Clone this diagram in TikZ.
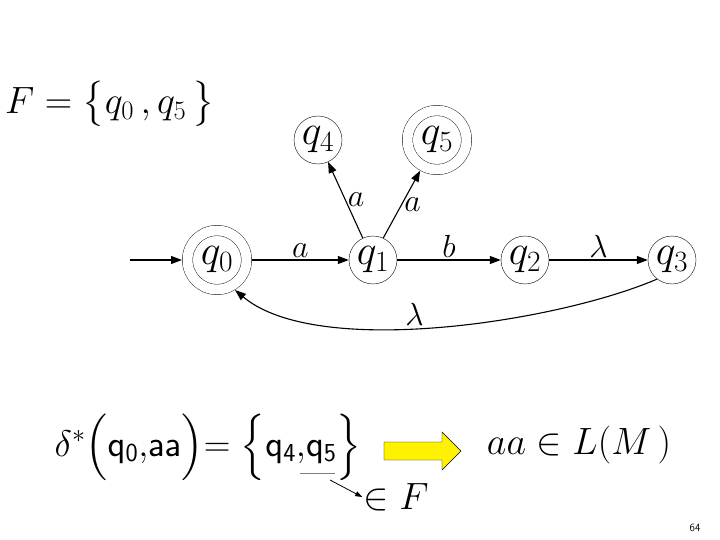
\RequirePackage{fix-cm}
\documentclass[tikz,border=0pt]{standalone}
\usepackage{amsmath}
\usepackage{amssymb}
\usetikzlibrary{arrows.meta, positioning}

\begin{document}
\begin{tikzpicture}[x=1pt,y=1pt,
  state/.style={draw,circle,thin,minimum size=48pt,inner sep=0pt,font=\fontsize{42}{44}\selectfont},
  accept/.style={state,double,double distance=10pt,minimum size=59pt,outer sep=5.5pt},
  edge/.style={-{Triangle[length=11pt,width=8pt]},line width=1.1pt},
  lbl/.style={font=\fontsize{32}{34}\selectfont,inner sep=2pt},
  big/.style={font=\fontsize{38}{40}\selectfont}]
  \useasboundingbox (0,0) rectangle (720,-540);

  % final states
  \node[big] (fset) at (110,-104) {$F=\bigl\{q_0\,,q_5\,\bigr\}$};

  % states
  \node[accept] (q0) at (217,-260) {$q_0$};
  \node[state] (q1) at (373,-260) {$q_1$};
  \node[state] (q2) at (525,-260) {$q_2$};
  \node[state] (q3) at (672,-260) {$q_3$};
  \node[state] (q4) at (318,-140) {$q_4$};
  \node[accept] (q5) at (437,-140) {$q_5$};
  \coordinate (start) at (130,-260);

  % transitions
  \draw[edge] (start) -- (q0);
  \draw[edge] (q0) -- node[lbl,above] {$a$} (q1);
  \draw[edge] (q1) -- node[lbl,above] {$b$} (q2);
  \draw[edge] (q2) -- node[lbl,above] {$\lambda$} (q3);
  \draw[edge] (q1.115) -- node[lbl,right] {$a$} (q4);
  \draw[edge] (q1.65) -- node[lbl,right] {$a$} (q5);
  \draw[edge] (q3.232) .. controls +(-100,-43) and +(82,-69) .. node[lbl,above,pos=0.55] {$\lambda$} (q0.-59);

  % extended transition
  \node[font=\fontsize{37}{39}\selectfont,inner sep=0pt] (delta) at (208,-447)
    {$\delta^*\Bigl(\mathsf{q}_{\mathsf{0}}{,}\mathsf{aa}\Bigr)\mathord{=}\;\Bigl\{\mathsf{q}_{\mathsf{4}}{,}\mathsf{q}_{\mathsf{5}}\Bigr\}$};
  \draw[gray,thick] (300,-473) -- (335,-473);
  \coordinate (ulend) at (330,-480);
  \node[big,inner sep=1pt] (inF) at (396,-497) {$\in F$};
  \draw[-{Triangle[length=7pt,width=5pt]},thick] (ulend) -- (inF.west);

  % yellow arrow
  \draw[fill=yellow] (384,-442) -- (442,-442) -- (442,-432) -- (461,-451)
    -- (442,-470) -- (442,-460) -- (384,-460) -- cycle;

  \node[big] (inL) at (579,-445) {$aa\in L(M\,)$};

  % page number
  \node[font=\sffamily\fontsize{11}{12}\selectfont] (page) at (695,-528) {64};
\end{tikzpicture}
\end{document}
